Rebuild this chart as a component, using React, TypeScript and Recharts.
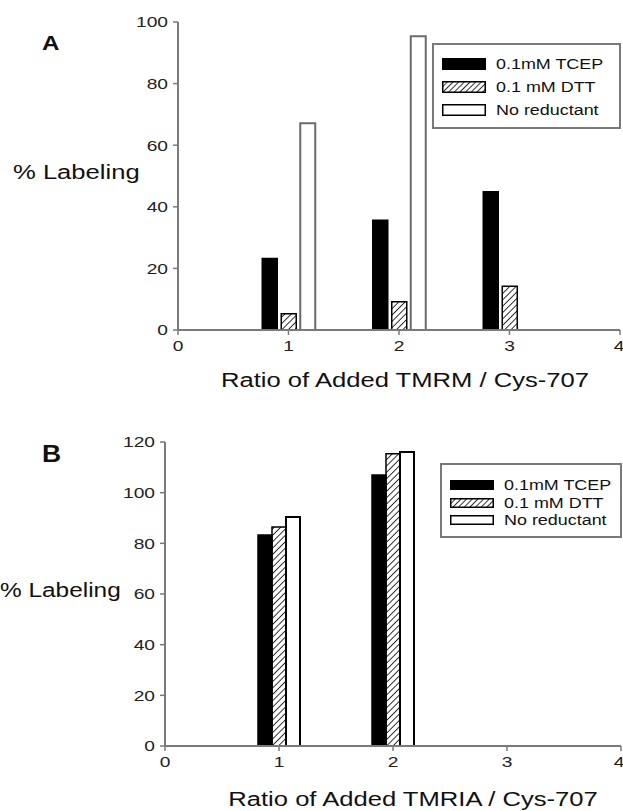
import React from 'react';
import { BarChart, Bar, XAxis, YAxis } from 'recharts';

const ratioTicks = [0, 1, 2, 3, 4];
const seriesNames = ['0.1mM TCEP', '0.1 mM DTT', 'No reductant'];

// Panel A: TMRM
const tmrmRatio = [1, 2, 3];
const tmrmTcep = [23.2, 35.6, 44.9];
const tmrmDtt = [5.3, 9.2, 14.2];
const tmrmNone: (number | null)[] = [67.1, 95.4, null];
const tmrmYTicks = [0, 20, 40, 60, 80, 100];

// Panel B: TMRIA
const tmriaRatio = [1, 2];
const tmriaTcep = [83.3, 107];
const tmriaDtt = [86.4, 115.4];
const tmriaNone = [90.4, 116.1];
const tmriaYTicks = [0, 20, 40, 60, 80, 100, 120];

const FONT = '"Liberation Sans", Arial, sans-serif';
const AXIS = '#7a7a7a';
const SX = 1.28;

const buildRows = (x: number[], a: (number | null)[], b: (number | null)[], c: (number | null)[]) =>
  x.map((r, i) => ({ ratio: r, tcep: a[i], dtt: b[i], none: c[i] }));

const XTick = (props: any) => {
  const { x, y, payload } = props;
  return (
    <text transform={`translate(${x},${y}) scale(${SX},1)`} textAnchor="middle" dy="0.8em" fontSize={15} fontFamily={FONT} fill="#222">
      {payload.value}
    </text>
  );
};

const YTick = (props: any) => {
  const { x, y, payload } = props;
  return (
    <text transform={`translate(${x},${y}) scale(${SX},1)`} textAnchor="end" dy="0.36em" fontSize={15} fontFamily={FONT} fill="#222">
      {payload.value}
    </text>
  );
};

const Stretched = ({ left, top, size, bold, children, anchor = 'left', sx = SX }: any) => (
  <div
    style={{
      position: 'absolute',
      left,
      top,
      fontFamily: FONT,
      fontSize: size,
      fontWeight: bold ? 700 : 400,
      color: '#111',
      whiteSpace: 'nowrap',
      lineHeight: 1,
      transform: `${anchor === 'center' ? 'translateX(-50%) ' : ''}scaleX(${sx})`,
      transformOrigin: anchor === 'center' ? '50% 50%' : '0 50%',
    }}
  >
    {children}
  </div>
);

const LegendBox = ({ left, top, width, height, rowTop, rowStep, swH, fontSize, pid }: any) => (
  <div
    style={{
      position: 'absolute',
      left,
      top,
      width,
      height,
      border: `2px solid ${AXIS}`,
      background: '#fff',
      boxSizing: 'border-box',
    }}
  >
    {seriesNames.map((name, i) => (
      <div key={name} style={{ position: 'absolute', left: 8, top: rowTop + i * rowStep - swH / 2 }}>
        <svg width={44} height={swH} style={{ position: 'absolute', left: 0, top: 0 }}>
          <defs>
            <pattern id={pid} width={4} height={4} patternUnits="userSpaceOnUse" patternTransform="rotate(45)">
              <line x1={0} y1={0} x2={0} y2={4} stroke="#000" strokeWidth={1.6} />
            </pattern>
          </defs>
          <rect
            x={0.75}
            y={0.75}
            width={42.5}
            height={swH - 1.5}
            fill={i === 0 ? '#000' : i === 1 ? `url(#${pid})` : '#fff'}
            stroke="#000"
            strokeWidth={1.5}
          />
        </svg>
        <div
          style={{
            position: 'absolute',
            left: 54,
            top: swH / 2 - fontSize / 2,
            fontFamily: FONT,
            fontSize,
            lineHeight: 1,
            whiteSpace: 'nowrap',
            color: '#111',
            transform: `scaleX(${SX})`,
            transformOrigin: '0 50%',
          }}
        >
          {name}
        </div>
      </div>
    ))}
  </div>
);

const Panel = ({ rows, yTicks, top, height, plot, barSize, barGap, pid, noneStroke }: any) => {
  const yMax = yTicks[yTicks.length - 1];
  return (
    <div style={{ position: 'absolute', left: 0, top, width: 623, height }}>
      <BarChart
        width={623}
        height={height}
        data={rows}
        barSize={barSize}
        barGap={barGap}
        margin={{ top: plot.top, right: 623 - plot.right, bottom: height - plot.bottom - 30, left: plot.left - 40 }}
      >
        <defs>
          <pattern id={pid} width={4.5} height={4.5} patternUnits="userSpaceOnUse" patternTransform="rotate(45)">
            <line x1={0} y1={0} x2={0} y2={4.5} stroke="#000" strokeWidth={1.6} />
          </pattern>
        </defs>
        <XAxis
          dataKey="ratio"
          type="number"
          domain={[0, 4]}
          ticks={ratioTicks}
          allowDataOverflow
          height={30}
          tick={<XTick />}
          tickSize={5}
          tickMargin={4}
          axisLine={{ stroke: AXIS, strokeWidth: 2 }}
          tickLine={{ stroke: AXIS, strokeWidth: 1.5 }}
        />
        <XAxis xAxisId="top" orientation="top" type="number" domain={[0, 4]} height={0} tick={false} tickLine={false} axisLine={{ stroke: AXIS, strokeWidth: 2 }} />
        <YAxis
          type="number"
          domain={[0, yMax]}
          ticks={yTicks}
          width={40}
          tick={<YTick />}
          tickSize={5}
          tickMargin={5}
          axisLine={{ stroke: AXIS, strokeWidth: 2 }}
          tickLine={{ stroke: AXIS, strokeWidth: 1.5 }}
        />
        <YAxis yAxisId="right" orientation="right" type="number" domain={[0, yMax]} width={0} tick={false} tickLine={false} axisLine={{ stroke: AXIS, strokeWidth: 2 }} />
        <Bar dataKey="tcep" fill="#000" stroke="#000" strokeWidth={1.5} isAnimationActive={false} />
        <Bar dataKey="dtt" fill={`url(#${pid})`} stroke="#000" strokeWidth={1.5} isAnimationActive={false} />
        <Bar dataKey="none" fill="#fff" stroke={noneStroke} strokeWidth={2} isAnimationActive={false} />
      </BarChart>
    </div>
  );
};

export default function App() {
  const rowsA = buildRows(tmrmRatio, tmrmTcep, tmrmDtt, tmrmNone);
  const rowsB = buildRows(tmriaRatio, tmriaTcep, tmriaDtt, tmriaNone);
  return (
    <div style={{ position: 'absolute', left: 0, top: 0, width: 623, height: 811, background: '#fff', overflow: 'hidden' }}>
      <Panel rows={rowsA} yTicks={tmrmYTicks} top={0} height={400} plot={{ left: 178, right: 620, top: 22, bottom: 330 }} barSize={15} barGap={4} pid="hatchA" noneStroke="#6a6a6a" />
      <Panel rows={rowsB} yTicks={tmriaYTicks} top={400} height={411} plot={{ left: 165, right: 621, top: 42, bottom: 346 }} barSize={14} barGap={0} pid="hatchB" noneStroke="#000" />

      <LegendBox left={432} top={43} width={189} height={86} rowTop={19} rowStep={23} swH={12} fontSize={14} pid="legA" />
      <LegendBox left={440} top={463} width={182} height={75} rowTop={20} rowStep={17.5} swH={10} fontSize={14} pid="legB" />

      <Stretched left={42} top={32} size={21} bold sx={1.15}>A</Stretched>
      <Stretched left={42} top={443} size={23} bold sx={1.15}>B</Stretched>

      <Stretched left={13} top={162} size={20}>% Labeling</Stretched>
      <Stretched left={0} top={580} size={20} sx={1.22}>% Labeling</Stretched>

      <Stretched left={405} top={370} size={20} anchor="center">Ratio of Added TMRM / Cys-707</Stretched>
      <Stretched left={413} top={789} size={20} anchor="center">Ratio of Added TMRIA / Cys-707</Stretched>
    </div>
  );
}
